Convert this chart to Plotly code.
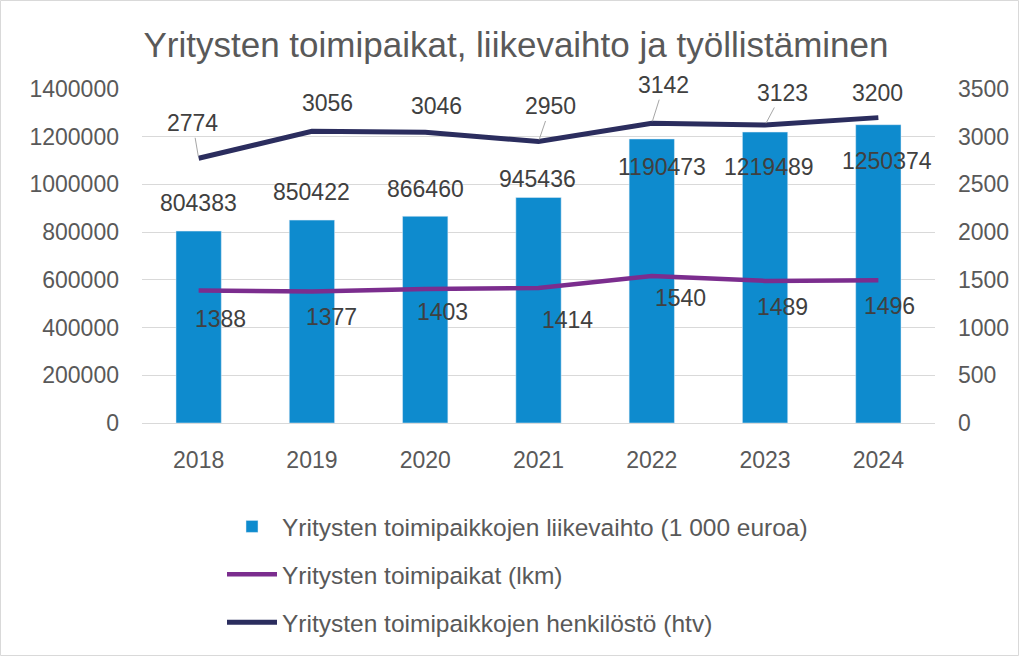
import plotly.graph_objects as go

years = ["2018", "2019", "2020", "2021", "2022", "2023", "2024"]
liikevaihto = [804383, 850422, 866460, 945436, 1190473, 1219489, 1250374]
toimipaikat = [1388, 1377, 1403, 1414, 1540, 1489, 1496]
henkilosto = [2774, 3056, 3046, 2950, 3142, 3123, 3200]

name_bar = "Yritysten toimipaikkojen liikevaihto (1 000 euroa)"
name_tp = "Yritysten toimipaikat (lkm)"
name_hs = "Yritysten toimipaikkojen henkilöstö (htv)"
title = "Yritysten toimipaikat, liikevaihto ja työllistäminen"

# label offsets (pixels, dx right, dy down) – styling only
bar_off = [(0, -28), (0, -28), (0, -27), (-1, -18), (10, 28), (4, 35), (9, 36)]
tp_off = [(22, 28), (20, 25), (17, 23), (29, 32), (29, 22), (17, 26), (11, 26)]
hs_off = [(-6, -35), (16, -28), (11, -26), (12, -35), (12, -38), (17, -32), (-1, -25)]
hs_leader = [True, False, False, True, True, True, False]

FONT = "Liberation Sans"
W, H = 1019, 656
L, R, T, B = 142, 84, 89, 233
pw, ph = W - L - R, H - T - B

BAR_C = "#0E8BCE"
PUR_C = "#7B2D8E"
NAV_C = "#2B2D5E"
TXT_C = "#404040"
AX_C = "#595959"

fig = go.Figure()
fig.add_trace(go.Bar(x=years, y=liikevaihto, name=name_bar, marker_color=BAR_C,
                     width=0.4, legendgroup="a"))
fig.add_trace(go.Scatter(x=years, y=toimipaikat, name=name_tp, mode="lines",
                         line=dict(color=PUR_C, width=4.5), yaxis="y2", legendgroup="b"))
fig.add_trace(go.Scatter(x=years, y=henkilosto, name=name_hs, mode="lines",
                         line=dict(color=NAV_C, width=5), yaxis="y2", legendgroup="c"))

ann = []
lf = dict(family=FONT, size=23, color=TXT_C)
for i, (v, (dx, dy)) in enumerate(zip(liikevaihto, bar_off)):
    ann.append(dict(x=i, y=v, xref="x", yref="y", text=str(v), showarrow=False,
                    xshift=dx, yshift=-dy, font=lf))
for i, (v, (dx, dy)) in enumerate(zip(toimipaikat, tp_off)):
    ann.append(dict(x=i, y=v, xref="x", yref="y2", text=str(v), showarrow=False,
                    xshift=dx, yshift=-dy, font=lf))
for i, (v, (dx, dy), ld) in enumerate(zip(henkilosto, hs_off, hs_leader)):
    if ld:
        ann.append(dict(x=i, y=v, xref="x", yref="y2", text=str(v), showarrow=True,
                        ax=dx, ay=dy, arrowhead=0, arrowwidth=1, arrowcolor="#A6A6A6",
                        standoff=2, font=lf))
    else:
        ann.append(dict(x=i, y=v, xref="x", yref="y2", text=str(v), showarrow=False,
                        xshift=dx, yshift=-dy, font=lf))

fig.update_layout(
    width=W, height=H,
    margin=dict(l=L, r=R, t=T, b=B, autoexpand=False),
    paper_bgcolor="white", plot_bgcolor="white",
    font=dict(family=FONT, size=23, color=AX_C),
    title=dict(text=title, x=(516) / W, xanchor="center", y=1 - 45 / H, yanchor="middle",
               font=dict(family=FONT, size=35, color=AX_C)),
    bargap=0.6,
    showlegend=True,
    legend=dict(orientation="v", x=(222 - L) / pw, xanchor="left",
                y=-(504 - (T + ph)) / ph, yanchor="top",
                font=dict(family=FONT, size=24.5, color=AX_C),
                tracegroupgap=13, itemwidth=50, bgcolor="rgba(0,0,0,0)"),
    xaxis=dict(type="category", range=[-0.5, 6.5], showgrid=False, showline=True,
               linecolor="#D9D9D9", linewidth=1, ticks="", ticklabelstandoff=16,
               tickfont=dict(family=FONT, size=23, color=AX_C)),
    yaxis=dict(range=[0, 1400000], dtick=200000, showgrid=True, gridcolor="#D9D9D9",
               gridwidth=1, zeroline=False, showline=False, ticks="",
               tickformat="d", ticklabelstandoff=22,
               tickfont=dict(family=FONT, size=23, color=AX_C)),
    yaxis2=dict(range=[0, 3500], dtick=500, overlaying="y", side="right",
                showgrid=False, zeroline=False, showline=False, ticks="",
                tickformat="d", ticklabelstandoff=22,
                tickfont=dict(family=FONT, size=23, color=AX_C)),
    annotations=ann,
    shapes=[dict(type="rect", xref="paper", yref="paper",
                 x0=-(L - 0.5) / pw, x1=(pw + R - 0.5) / pw,
                 y0=-(B - 0.5) / ph, y1=(ph + T - 0.5) / ph,
                 line=dict(color="#D9D9D9", width=1), fillcolor="rgba(0,0,0,0)",
                 layer="below")],
)

fig.write_html("out.html", config={"displayModeBar": False},
               post_script="document.body.style.margin='0';document.body.style.overflow='hidden';")
